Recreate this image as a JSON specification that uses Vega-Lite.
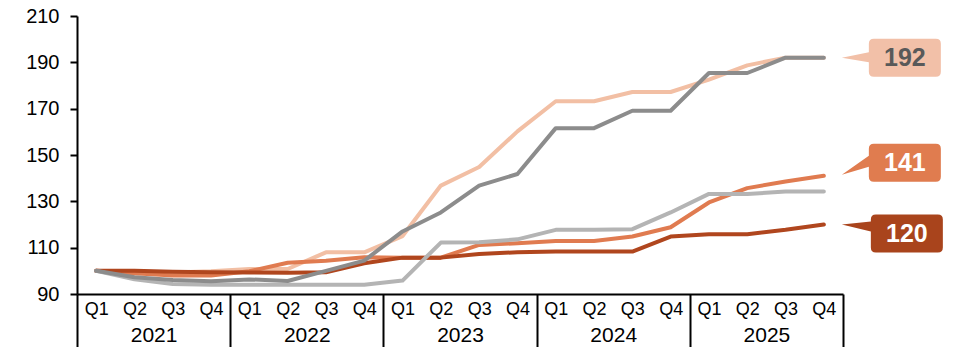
{
  "$schema": "https://vega.github.io/schema/vega-lite/v6.json",
  "width": 766,
  "height": 278,
  "autosize": "none",
  "padding": {"left": 77, "top": 16, "right": 115, "bottom": 53},
  "background": "white",
  "config": {
    "view": {"stroke": null},
    "font": "Liberation Sans",
    "axis": {"labelFont": "Liberation Sans", "labelColor": "#000000", "grid": false, "title": null}
  },
  "data": {
    "values": [
      {"p": 1, "peach": 100, "orange": 100, "brown": 100, "light_gray": 100, "dark_gray": 100},
      {"p": 2, "peach": 98.8, "orange": 99, "brown": 100, "light_gray": 96.4, "dark_gray": 97.2},
      {"p": 3, "peach": 99.3, "orange": 98, "brown": 99.6, "light_gray": 94.3, "dark_gray": 96},
      {"p": 4, "peach": 99.8, "orange": 98, "brown": 99.4, "light_gray": 94, "dark_gray": 95.5},
      {"p": 5, "peach": 100.8, "orange": 99.8, "brown": 99.3, "light_gray": 94, "dark_gray": 96.3},
      {"p": 6, "peach": 100.8, "orange": 103.5, "brown": 99.2, "light_gray": 94, "dark_gray": 95.6},
      {"p": 7, "peach": 108, "orange": 104.4, "brown": 99.4, "light_gray": 94, "dark_gray": 100},
      {"p": 8, "peach": 108, "orange": 105.9, "brown": 103.3, "light_gray": 94, "dark_gray": 104.4},
      {"p": 9, "peach": 115, "orange": 105.7, "brown": 105.7, "light_gray": 95.8, "dark_gray": 117},
      {"p": 10, "peach": 136.8, "orange": 105.7, "brown": 105.7, "light_gray": 112.2, "dark_gray": 125.2},
      {"p": 11, "peach": 144.8, "orange": 111.2, "brown": 107.3, "light_gray": 112.3, "dark_gray": 136.8},
      {"p": 12, "peach": 160.2, "orange": 111.9, "brown": 108, "light_gray": 113.6, "dark_gray": 141.8},
      {"p": 13, "peach": 173.2, "orange": 112.9, "brown": 108.3, "light_gray": 117.7, "dark_gray": 161.6},
      {"p": 14, "peach": 173.2, "orange": 112.9, "brown": 108.3, "light_gray": 117.7, "dark_gray": 161.6},
      {"p": 15, "peach": 177.2, "orange": 114.8, "brown": 108.3, "light_gray": 118, "dark_gray": 169.1},
      {"p": 16, "peach": 177.2, "orange": 118.8, "brown": 114.8, "light_gray": 125.2, "dark_gray": 169.1},
      {"p": 17, "peach": 182.5, "orange": 129.5, "brown": 115.8, "light_gray": 133.2, "dark_gray": 185.4},
      {"p": 18, "peach": 188.7, "orange": 135.7, "brown": 115.8, "light_gray": 133.2, "dark_gray": 185.4},
      {"p": 19, "peach": 192, "orange": 138.6, "brown": 117.7, "light_gray": 134.2, "dark_gray": 192},
      {"p": 20, "peach": 192, "orange": 141, "brown": 120, "light_gray": 134.2, "dark_gray": 192}
    ]
  },
  "transform": [
    {"fold": ["peach", "orange", "brown", "light_gray", "dark_gray"], "as": ["series", "v"]}
  ],
  "layer": [
    {
      "mark": {"type": "line", "strokeWidth": 4, "strokeJoin": "round", "strokeCap": "round"},
      "encoding": {
        "x": {
          "field": "p", "type": "quantitative",
          "scale": {"domain": [0.5, 20.5], "nice": false, "zero": false},
          "axis": {
            "orient": "bottom",
            "values": [1, 2, 3, 4, 5, 6, 7, 8, 9, 10, 11, 12, 13, 14, 15, 16, 17, 18, 19, 20],
            "labelExpr": "'Q' + ((datum.value - 1) % 4 + 1)",
            "ticks": false, "domain": false,
            "labelPadding": 6.5, "labelFontSize": 18,
            "labelFlush": false, "labelOverlap": false
          }
        },
        "y": {
          "field": "v", "type": "quantitative",
          "scale": {"domain": [90, 210], "nice": false, "zero": false},
          "axis": {
            "orient": "left",
            "values": [90, 110, 130, 150, 170, 190, 210],
            "domainColor": "#000000", "domainWidth": 2,
            "tickColor": "#000000", "tickWidth": 2, "tickSize": 7,
            "labelPadding": 11, "labelFontSize": 20
          }
        },
        "color": {
          "field": "series", "type": "nominal",
          "scale": {
            "domain": ["peach", "orange", "brown", "light_gray", "dark_gray"],
            "range": ["#F2BFA4", "#E07B50", "#B0461E", "#B4B4B4", "#8C8C8C"]
          },
          "legend": null
        },
        "order": {"field": "p", "type": "quantitative"}
      }
    },
    {
      "transform": [{"filter": "datum.series == 'peach' && datum.p == 20"}],
      "mark": {
        "type": "point", "filled": true, "opacity": 1, "size": 4, "strokeWidth": 0,
        "fill": "#F2C0A8",
        "shape": "M18,0 L45,-5.4 L45,-14 Q45,-19 50,-19 L112,-19 Q117,-19 117,-14 L117,14 Q117,19 112,19 L50,19 Q45,19 45,14 L45,4.6 Z"
      },
      "encoding": {
        "x": {
          "field": "p", "type": "quantitative",
          "axis": {
            "orient": "bottom",
            "values": [0.5, 4.5, 8.5, 12.5, 16.5, 20.5],
            "labels": false,
            "ticks": true, "tickSize": 53, "tickWidth": 2, "tickColor": "#000000",
            "domain": true, "domainColor": "#000000", "domainWidth": 2
          }
        },
        "y": {"field": "v", "type": "quantitative", "axis": null}
      }
    },
    {
      "transform": [{"filter": "datum.series == 'orange' && datum.p == 20"}],
      "mark": {
        "type": "point", "filled": true, "opacity": 1, "size": 4, "strokeWidth": 0,
        "fill": "#E07C4F",
        "shape": "M18,-1 L45,-20 L45,-27 Q45,-32 50,-32 L112,-32 Q117,-32 117,-27 L117,1 Q117,6 112,6 L50,6 Q45,6 45,1 L45,-9 Z"
      },
      "encoding": {
        "x": {
          "field": "p", "type": "quantitative",
          "axis": {
            "orient": "bottom",
            "values": [2.5, 6.5, 10.5, 14.5, 18.5],
            "labelExpr": "'' + (2021 + (datum.value - 2.5) / 4)",
            "ticks": false, "domain": false,
            "labelPadding": 30.5, "labelFontSize": 21,
            "labelFlush": false, "labelOverlap": false
          }
        },
        "y": {"field": "v", "type": "quantitative", "axis": null}
      }
    },
    {
      "transform": [{"filter": "datum.series == 'brown' && datum.p == 20"}],
      "mark": {
        "type": "point", "filled": true, "opacity": 1, "size": 4, "strokeWidth": 0,
        "fill": "#A9441C",
        "shape": "M18,0 L47,-3 L47,-5 Q47,-10 52,-10 L114,-10 Q119,-10 119,-5 L119,23 Q119,28 114,28 L52,28 Q47,28 47,23 L47,7 Z"
      },
      "encoding": {
        "x": {"field": "p", "type": "quantitative", "axis": null},
        "y": {"field": "v", "type": "quantitative", "axis": null}
      }
    },
    {
      "transform": [{"filter": "datum.series == 'peach' && datum.p == 20"}],
      "mark": {"type": "text", "dx": 81, "dy": 0, "baseline": "middle", "align": "center", "fontSize": 25, "fontWeight": "bold", "color": "#595959"},
      "encoding": {
        "x": {"field": "p", "type": "quantitative", "axis": null},
        "y": {"field": "v", "type": "quantitative", "axis": null},
        "text": {"field": "v", "type": "quantitative", "format": "d"}
      }
    },
    {
      "transform": [{"filter": "datum.series == 'orange' && datum.p == 20"}],
      "mark": {"type": "text", "dx": 81, "dy": -13, "baseline": "middle", "align": "center", "fontSize": 25, "fontWeight": "bold", "color": "#FFFFFF"},
      "encoding": {
        "x": {"field": "p", "type": "quantitative", "axis": null},
        "y": {"field": "v", "type": "quantitative", "axis": null},
        "text": {"field": "v", "type": "quantitative", "format": "d"}
      }
    },
    {
      "transform": [{"filter": "datum.series == 'brown' && datum.p == 20"}],
      "mark": {"type": "text", "dx": 83, "dy": 9, "baseline": "middle", "align": "center", "fontSize": 25, "fontWeight": "bold", "color": "#FFFFFF"},
      "encoding": {
        "x": {"field": "p", "type": "quantitative", "axis": null},
        "y": {"field": "v", "type": "quantitative", "axis": null},
        "text": {"field": "v", "type": "quantitative", "format": "d"}
      }
    }
  ],
  "resolve": {"axis": {"x": "independent", "y": "independent"}}
}
